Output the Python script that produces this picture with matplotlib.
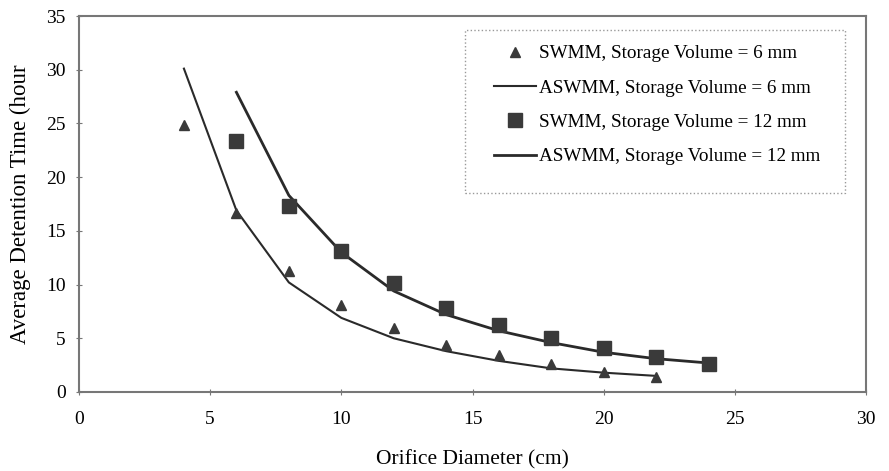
import numpy as np
import matplotlib.pyplot as plt
from matplotlib.patches import Rectangle

plt.rcParams['font.family'] = ['Liberation Serif', 'DejaVu Serif']

# ── data ──────────────────────────────────────────────────────────────────────
x_swmm6 = [4, 6, 8, 10, 12, 14, 16, 18, 20, 22]
y_swmm6 = [24.9, 16.7, 11.3, 8.1, 6.0, 4.4, 3.4, 2.6, 1.9, 1.4]

x_aswmm6 = [4, 6, 8, 10, 12, 14, 16, 18, 20, 22]
y_aswmm6 = [30.1, 16.9, 10.2, 6.9, 5.0, 3.8, 2.9, 2.2, 1.8, 1.5]

x_swmm12 = [6, 8, 10, 12, 14, 16, 18, 20, 22, 24]
y_swmm12 = [23.4, 17.3, 13.1, 10.1, 7.8, 6.2, 5.0, 4.1, 3.3, 2.6]

x_aswmm12 = [6, 8, 10, 12, 14, 16, 18, 20, 22, 24]
y_aswmm12 = [27.9, 18.3, 13.0, 9.4, 7.2, 5.7, 4.6, 3.7, 3.1, 2.7]

xticks = [0, 5, 10, 15, 20, 25, 30]
yticks = [0, 5, 10, 15, 20, 25, 30, 35]

W, H = 889, 471

# ── figure ────────────────────────────────────────────────────────────────────
fig = plt.figure(figsize=(W / 100, H / 100), dpi=100)
ax = fig.add_axes([79 / W, 1 - 392 / H, (866 - 79) / W, (392 - 16) / H])

ax.plot(x_swmm6, y_swmm6, linestyle="none", marker="^", markersize=6.5,
        color="#3a3a3a", label="SWMM, Storage Volume = 6 mm", zorder=4)
ax.plot(x_aswmm6, y_aswmm6, color="#2a2a2a", linewidth=1.5,
        label="ASWMM, Storage Volume = 6 mm", zorder=3)
ax.plot(x_swmm12, y_swmm12, linestyle="none", marker="s", markersize=10,
        color="#3a3a3a", label="SWMM, Storage Volume = 12 mm", zorder=4)
ax.plot(x_aswmm12, y_aswmm12, color="#2a2a2a", linewidth=2.0,
        label="ASWMM, Storage Volume = 12 mm", zorder=3)

ax.set_xlim(0, 30)
ax.set_ylim(0, 35)
ax.set_xticks(xticks)
ax.set_yticks(yticks)
ax.tick_params(direction="inout", length=5, width=0.8, color="#777777",
               labelsize=14)
ax.tick_params(axis="y", pad=7)
ax.tick_params(axis="x", pad=11)

for side in ax.spines.values():
    side.set_color("#777777")
    side.set_linewidth(1.5)

ax.set_xlabel("Orifice Diameter (cm)", fontsize=15.5, labelpad=16)
ax.set_ylabel("Average Detention Time (hour", fontsize=16.5, labelpad=11)

# legend without its own frame; box drawn separately
leg = ax.legend(loc="upper left", bbox_to_anchor=(494 / W, 1 - 45 / H),
                bbox_transform=fig.transFigure, fontsize=13.8, frameon=False,
                handlelength=2.2, handletextpad=0.15, labelspacing=0.88,
                borderpad=0, borderaxespad=0)
fig.add_artist(Rectangle((465 / W, 1 - 193 / H), (845 - 465) / W, (193 - 30) / H,
                         transform=fig.transFigure, fill=False,
                         edgecolor="#999999", linestyle=":", linewidth=1.0))

fig.savefig("out.png", dpi=100)
